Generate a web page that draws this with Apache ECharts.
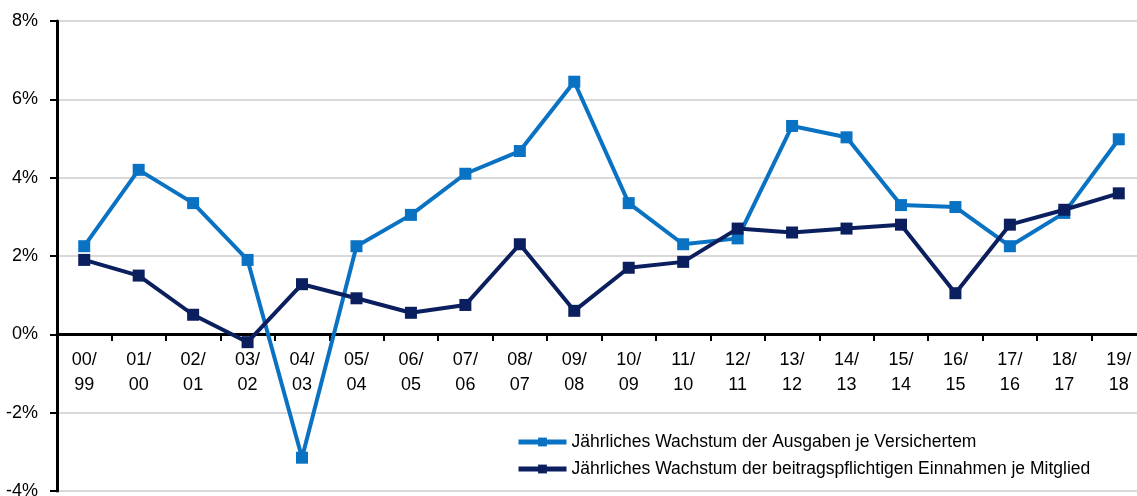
<!DOCTYPE html>
<html>
<head>
<meta charset="utf-8">
<script src="https://cdn.jsdelivr.net/npm/echarts@6/dist/echarts.min.js"></script>
<style>
  html, body { margin: 0; padding: 0; background: #fff; }
  #chart { width: 1137px; height: 496px; }
</style>
</head>
<body>
<div id="chart"></div>
<script>
var categories = ["00/\n99", "01/\n00", "02/\n01", "03/\n02", "04/\n03", "05/\n04", "06/\n05", "07/\n06", "08/\n07", "09/\n08",
  "10/\n09", "11/\n10", "12/\n11", "13/\n12", "14/\n13", "15/\n14", "16/\n15", "17/\n16", "18/\n17", "19/\n18"];
var ausgaben = [2.25, 4.2, 3.35, 1.9, -3.15, 2.25, 3.05, 4.1, 4.68, 6.45, 3.35, 2.3, 2.45, 5.32, 5.03, 3.3, 3.25, 2.25, 3.1, 4.98];
var einnahmen = [1.9, 1.5, 0.5, -0.2, 1.28, 0.92, 0.55, 0.75, 2.3, 0.6, 1.7, 1.85, 2.7, 2.6, 2.7, 2.8, 1.05, 2.8, 3.18, 3.6];
var seriesNames = ["Jährliches Wachstum der Ausgaben je Versichertem", "Jährliches Wachstum der beitragspflichtigen Einnahmen je Mitglied"];

var myChart = echarts.init(document.getElementById("chart"));
var font = "Liberation Sans, Arial, sans-serif";

myChart.setOption({
  backgroundColor: "#fff",
  animation: false,
  grid: { left: 57, right: -9, top: 21, bottom: 5, containLabel: false, outerBoundsMode: "none" },
  legend: {
    left: 511,
    top: 428,
    orient: "vertical",
    itemGap: 9,
    itemWidth: 48,
    itemHeight: 11,
    lineStyle: { width: 5 },
    textStyle: { fontFamily: font, fontSize: 17.5, color: "#000" },
    data: seriesNames
  },
  xAxis: {
    type: "category",
    data: categories,
    position: "bottom",
    // zero line sits 4 ticks of 2% above the bottom (-4%)
    offset: -157,
    axisLine: { onZero: false, lineStyle: { color: "#000", width: 3 } },
    axisTick: { show: true, length: 7, lineStyle: { color: "#000", width: 2 } },
    axisLabel: { fontFamily: font, fontSize: 18, color: "#000", lineHeight: 25, margin: 14 },
    splitLine: { show: false }
  },
  yAxis: {
    type: "value",
    min: -4,
    max: 8,
    interval: 2,
    axisLine: { show: true, lineStyle: { color: "#000", width: 3 } },
    axisTick: { show: true, length: 7, lineStyle: { color: "#000", width: 2 } },
    axisLabel: { fontFamily: font, fontSize: 18, color: "#000", margin: 19, formatter: "{value}%" },
    splitLine: { lineStyle: { color: "#d9d9d9", width: 2 } }
  },
  series: [
    {
      name: seriesNames[0],
      type: "line",
      data: ausgaben,
      symbol: "rect",
      symbolSize: 12,
      lineStyle: { color: "#0a72c2", width: 4 },
      itemStyle: { color: "#0a72c2" },
      z: 3
    },
    {
      name: seriesNames[1],
      type: "line",
      data: einnahmen,
      symbol: "rect",
      symbolSize: 12,
      lineStyle: { color: "#0b1f5e", width: 4 },
      itemStyle: { color: "#0b1f5e" },
      z: 4
    }
  ]
});
</script>
</body>
</html>
